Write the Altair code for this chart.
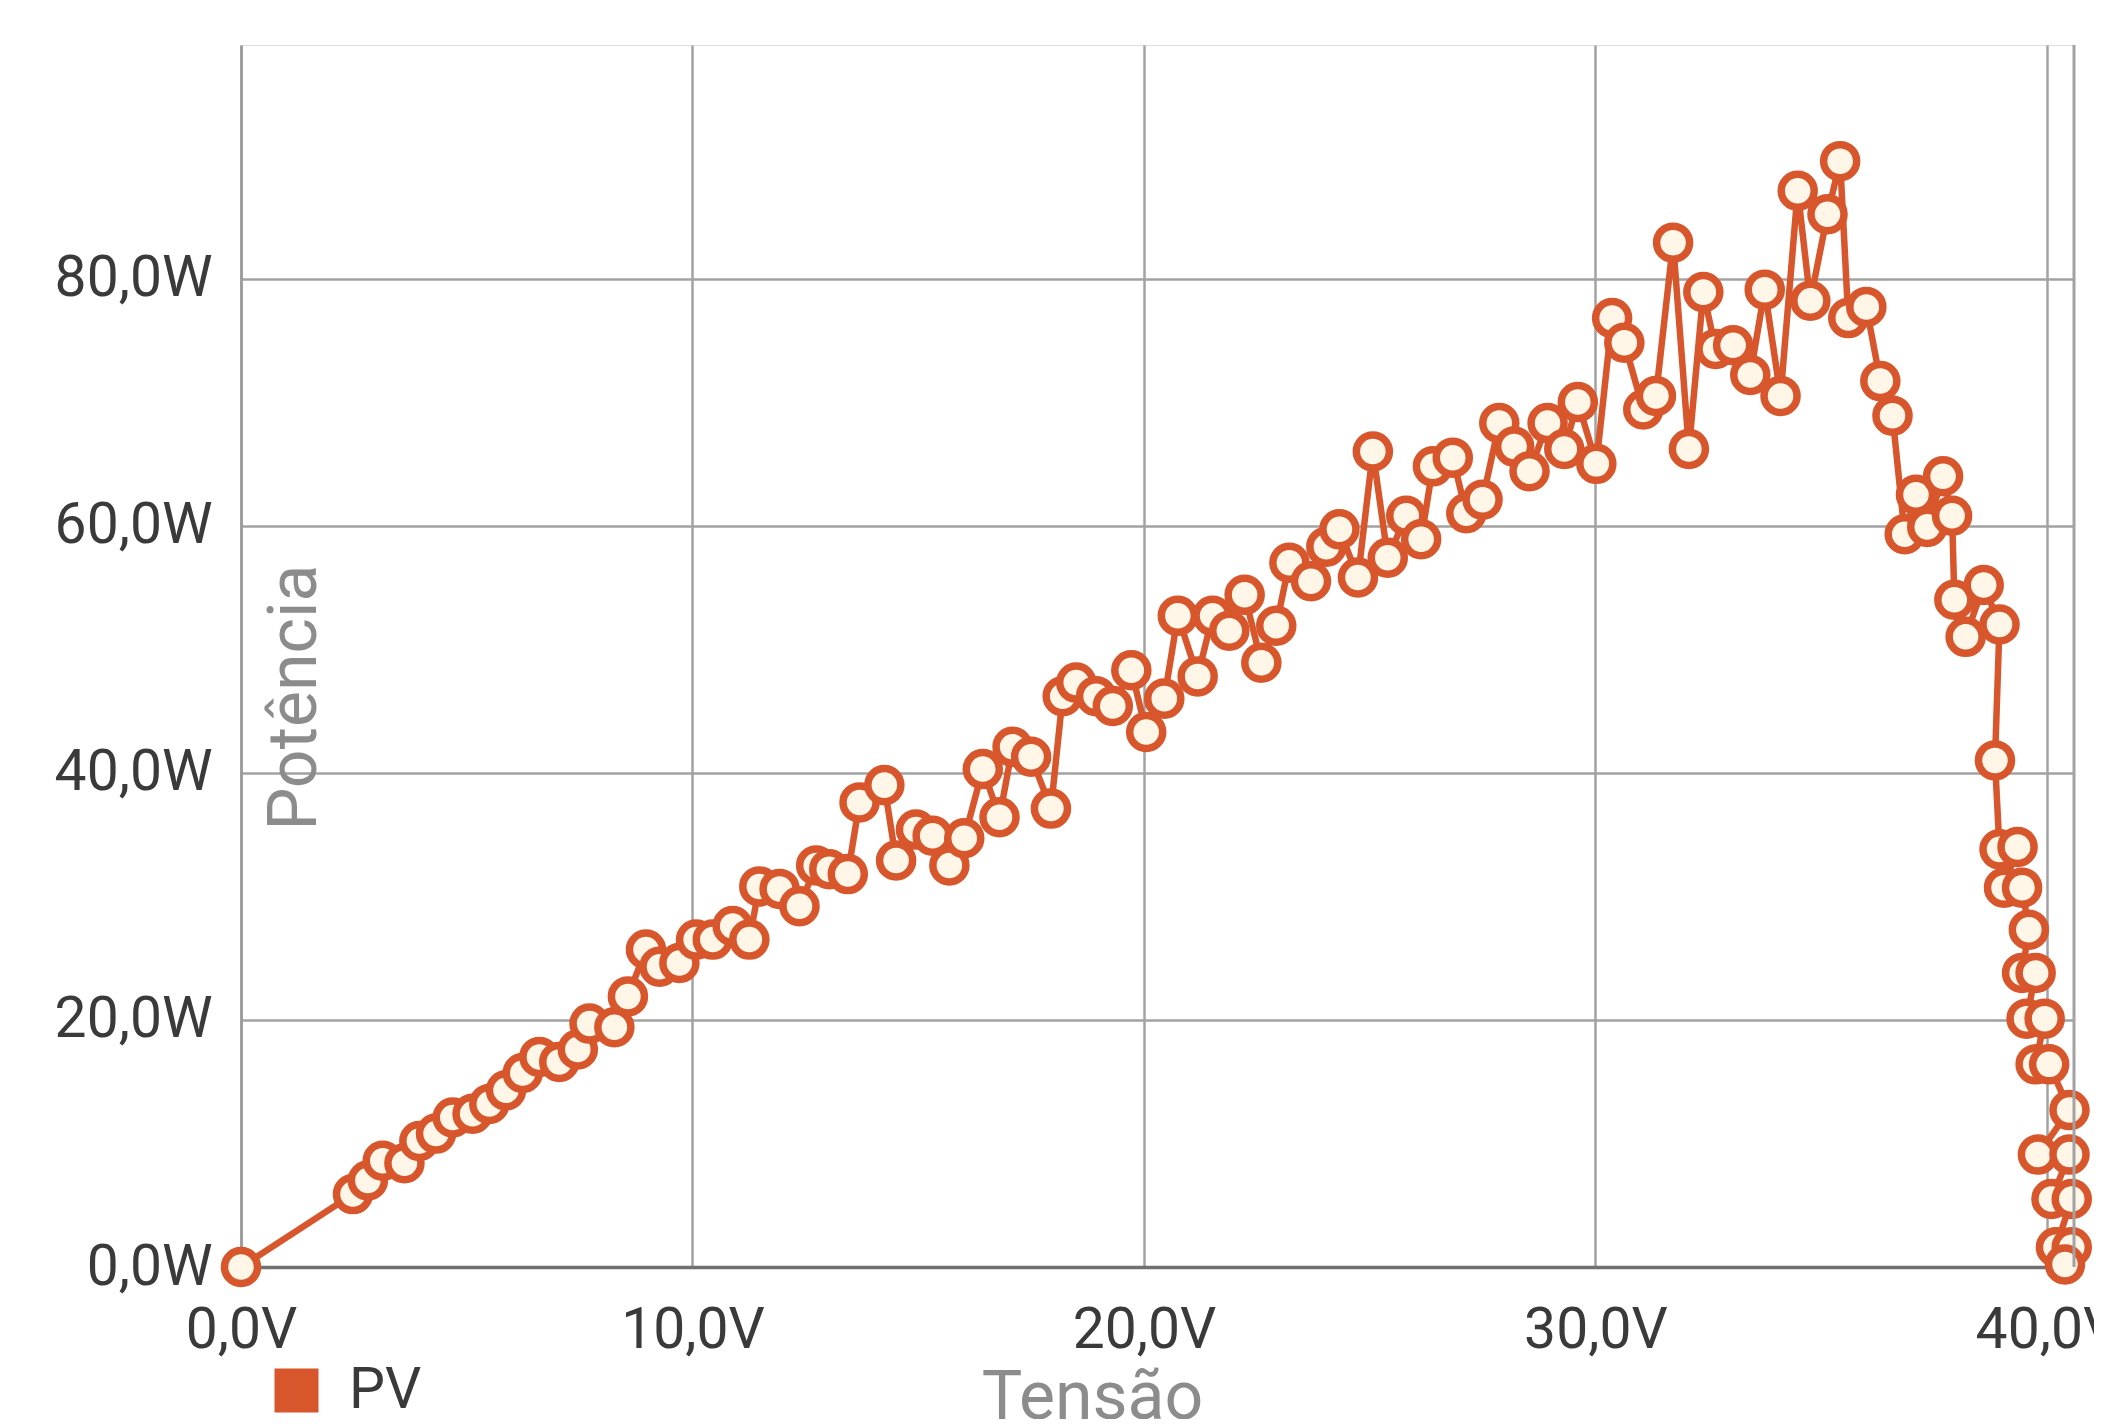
import altair as alt
import pandas as pd

# Tensão (V) and Potência (W), in sweep order
tensao = [0.0, 2.48, 2.81, 3.14, 3.62, 3.95, 4.32, 4.69, 5.13, 5.5, 5.87, 6.24, 6.61, 7.05, 7.46,
          7.72, 8.27, 8.57, 8.97, 9.27, 9.71, 10.08, 10.45, 10.89, 11.26, 11.48, 11.93, 12.37,
          12.74, 13.03, 13.44, 13.7, 14.25, 14.51, 14.95, 15.32, 15.69, 16.02, 16.43, 16.8,
          17.09, 17.5, 17.94, 18.2, 18.5, 18.94, 19.31, 19.72, 20.05, 20.45, 20.75, 21.19,
          21.52, 21.89, 22.23, 22.6, 22.93, 23.22, 23.7, 24.04, 24.33, 24.74, 25.07, 25.4,
          25.81, 26.14, 26.4, 26.84, 27.14, 27.5, 27.87, 28.2, 28.54, 28.94, 29.31, 29.61,
          30.02, 30.37, 30.64, 31.06, 31.34, 31.72, 32.07, 32.39, 32.66, 33.05, 33.43, 33.75,
          34.1, 34.48, 34.76, 35.14, 35.42, 35.6, 36.0, 36.31, 36.58, 36.85, 37.1, 37.35,
          37.7, 37.9, 37.95, 38.2, 38.6, 38.95, 38.85, 38.95, 39.35, 39.05, 39.45, 39.6,
          39.45, 39.75, 39.55, 39.95, 39.75, 40.05, 40.5, 39.8, 40.5, 40.1, 40.55, 40.2,
          40.55, 40.4]
potencia = [0.0, 5.9, 7.0, 8.6, 8.4, 10.2, 10.8, 12.1, 12.4, 13.2, 14.3, 15.7, 17.0, 16.6, 17.6,
            19.7, 19.4, 21.9, 25.7, 24.3, 24.6, 26.5, 26.5, 27.6, 26.5, 30.8, 30.6, 29.2,
            32.5, 32.2, 31.8, 37.6, 39.0, 32.9, 35.4, 34.9, 32.5, 34.7, 40.3, 36.4,
            42.1, 41.3, 37.1, 46.2, 47.3, 46.2, 45.4, 48.3, 43.3, 46.0, 52.7, 47.8,
            52.7, 51.5, 54.4, 48.9, 51.9, 57.0, 55.5, 58.3, 59.7, 55.8, 66.0, 57.4,
            60.8, 58.9, 64.8, 65.5, 61.0, 62.1, 68.3, 66.4, 64.4, 68.3, 66.2, 70.0,
            65.0, 76.8, 74.8, 69.4, 70.5, 82.9, 66.2, 78.9, 74.3, 74.6, 72.2, 79.1,
            70.5, 87.1, 78.2, 85.2, 89.5, 76.8, 77.7, 71.7, 68.9, 59.3, 62.5, 59.9,
            64.0, 60.8, 54.0, 51.0, 55.2, 52.0, 41.0, 33.8, 34.0, 30.7, 30.7, 27.3,
            23.8, 23.8, 20.1, 20.1, 16.4, 16.4, 12.7, 9.1, 9.1, 5.5, 5.5, 1.6,
            1.6, 0.2]

x_ticks = [0, 10, 20, 30, 40]
y_ticks = [0, 20, 40, 60, 80]
X_MAX = 40.6
Y_MAX = 98.9
serie = "PV"

ORANGE = "#d8562c"
CREAM = "#fff6e8"

df = pd.DataFrame({"V": tensao, "W": potencia, "i": list(range(len(tensao))),
                   "serie": [serie] * len(tensao)})

x_enc = alt.X("V:Q", scale=alt.Scale(domain=[0, X_MAX], nice=False, zero=False),
              axis=alt.Axis(values=x_ticks, title="Tensão",
                            labelExpr="replace(format(datum.value, '.1f'), '.', ',') + 'V'",
                            labelFontSize=57, labelFont="Roboto", labelColor="#3a3a3a",
                            labelPadding=35, ticks=False, domain=True, domainColor="#707070",
                            domainWidth=3.5, grid=True, gridColor="#a2a2a2", gridWidth=2.5,
                            titleFont="Roboto", titleFontSize=68, titleFontWeight="normal",
                            titleColor="#8c8c8c", titleX=851, titleY=151, titleAlign="center",
                            titleBaseline="alphabetic", labelFlush=False))
y_enc = alt.Y("W:Q", scale=alt.Scale(domain=[0, Y_MAX], nice=False, zero=False),
              axis=alt.Axis(values=y_ticks, title="Potência",
                            labelExpr="replace(format(datum.value, '.1f'), '.', ',') + 'W'",
                            labelFontSize=57, labelFont="Roboto", labelColor="#3a3a3a",
                            labelPadding=29, ticks=False, domain=True, domainColor="#9a9a9a",
                            domainWidth=2.5, grid=True, gridColor="#a2a2a2", gridWidth=2.5,
                            titleFont="Roboto", titleFontSize=68, titleFontWeight="normal",
                            titleColor="#8c8c8c", titleX=74, titleY=652, titleAngle=270,
                            titleAlign="center", titleBaseline="alphabetic"))

base = alt.Chart(df)

line = base.mark_line(strokeWidth=6.5).encode(
    x=x_enc, y=y_enc, order=alt.Order("i:Q"),
    color=alt.Color("serie:N", scale=alt.Scale(domain=[serie], range=[ORANGE]),
                    legend=alt.Legend(title=None, orient="none", legendX=27, legendY=1317,
                                      symbolType="square", symbolSize=1936,
                                      symbolFillColor=ORANGE, symbolStrokeWidth=0,
                                      labelFontSize=57, labelFont="Roboto",
                                      labelColor="#3a3a3a", labelOffset=24, padding=0,
                                      symbolOffset=0)),
)

points = base.mark_point(shape="circle", filled=True, fill=CREAM, stroke=ORANGE,
                         strokeWidth=7.5, size=1090, opacity=1).encode(x="V:Q", y="W:Q")

border = alt.Chart(pd.DataFrame({"xm": [X_MAX]})).mark_rule(
    color="#a2a2a2", strokeWidth=3).encode(x="xm:Q")

chart = alt.layer(line, points, border).properties(
    width=1833, height=1222,
    autosize=alt.AutoSizeParams(type="none"),
    padding={"left": 233, "top": 37, "right": 20, "bottom": 152},
).configure_view(stroke=None).configure(background="white")

chart.save("out.html", embed_options={"renderer": "svg", "actions": False})
